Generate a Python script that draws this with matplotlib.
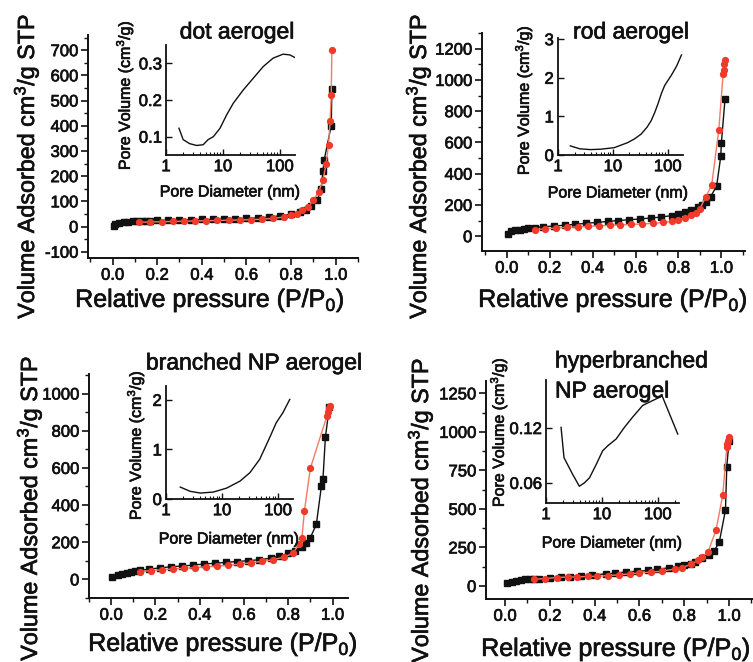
import matplotlib
matplotlib.use("Agg")
import matplotlib.pyplot as plt
import matplotlib.patheffects as pe
from matplotlib.text import Text
from matplotlib.ticker import MultipleLocator, FixedLocator, LogLocator, NullFormatter

plt.rcParams['font.family'] = ['Liberation Sans', 'DejaVu Sans']
plt.rcParams['mathtext.fontset'] = 'custom'
plt.rcParams['mathtext.rm'] = 'Liberation Sans'
plt.rcParams['mathtext.default'] = 'regular'

# ---------------- data ----------------
titles = ["dot aerogel", "rod aerogel", "branched NP aerogel", "hyperbranched", "NP aerogel"]

# dot aerogel
dot_ads_x = [0.005, 0.01, 0.03, 0.05, 0.07, 0.09, 0.11, 0.13, 0.15, 0.17, 0.2, 0.25, 0.3, 0.35, 0.4, 0.45,
             0.5, 0.55, 0.6, 0.65, 0.7, 0.75, 0.8, 0.84, 0.865, 0.889, 0.918, 0.935, 0.943, 0.948,
             0.98, 0.983]
dot_ads_y = [3, 8, 14, 17, 19, 20, 21, 22, 23, 23, 24, 25, 26, 27, 28, 28,
             29, 30, 32, 34, 37, 42, 48, 56, 66, 80, 104, 150, 220, 262,
             400, 545]
dot_des_x = [0.12, 0.17, 0.22, 0.27, 0.32, 0.37, 0.42, 0.47, 0.52, 0.57, 0.62, 0.67, 0.72, 0.77, 0.80,
             0.826, 0.851, 0.878, 0.90, 0.923, 0.943, 0.957, 0.968, 0.975, 0.98, 0.983]
dot_des_y = [17, 18, 19, 20, 21, 22, 23, 24, 25, 26, 27, 29, 32, 38, 45,
             51, 65, 78, 104, 137, 183, 249, 324, 420, 520, 700]
dot_pd = [1.69, 2.0, 2.6, 3.45, 4.5, 5.5, 6.8, 8.9, 11.6, 15.2, 22.7, 34, 51, 76, 114, 150, 183]
dot_pv = [0.123, 0.092, 0.081, 0.076, 0.078, 0.092, 0.100, 0.123, 0.159, 0.191, 0.227, 0.259, 0.291,
          0.314, 0.325, 0.323, 0.316]

# rod aerogel
rod_ads_x = [0.005, 0.02, 0.04, 0.06, 0.08, 0.10, 0.13, 0.17, 0.22, 0.27, 0.32, 0.37, 0.42, 0.47, 0.52,
             0.57, 0.62, 0.67, 0.72, 0.77, 0.80, 0.83, 0.86, 0.89, 0.91, 0.93, 0.95, 0.978, 0.997, 1.0,
             1.017]
rod_ads_y = [15, 30, 38, 42, 46, 50, 55, 60, 65, 70, 76, 82, 88, 94, 100,
             105, 110, 116, 122, 132, 142, 152, 165, 185, 200, 220, 253, 321, 510, 596,
             879]
rod_des_x = [0.13, 0.18, 0.23, 0.28, 0.33, 0.38, 0.43, 0.48, 0.53, 0.58, 0.63, 0.68, 0.73, 0.77, 0.80,
             0.83, 0.86, 0.88, 0.90, 0.928, 0.955, 0.988, 1.008, 1.011, 1.014, 1.017]
rod_des_y = [42, 47, 52, 56, 60, 63, 66, 69, 72, 75, 78, 82, 88, 95, 105,
             118, 135, 150, 175, 253, 328, 682, 1035, 1065, 1100, 1130]
rod_pd = [1.68, 2.5, 3.9, 6, 10.6, 18.6, 25, 32.7, 42, 50, 58, 66.6, 77, 88, 117, 145, 178]
rod_pv = [0.235, 0.16, 0.14, 0.15, 0.19, 0.32, 0.42, 0.54, 0.72, 0.89, 1.1, 1.33, 1.6, 1.8, 2.07, 2.3, 2.59]

# branched NP aerogel
br_ads_x = [0.005, 0.03, 0.05, 0.07, 0.09, 0.11, 0.13, 0.17, 0.22, 0.27, 0.32, 0.37, 0.42, 0.47, 0.52,
            0.57, 0.62, 0.67, 0.72, 0.76, 0.80, 0.83, 0.86, 0.88, 0.90, 0.927, 0.95, 0.957, 0.968, 0.986]
br_ads_y = [14, 23, 30, 36, 40, 44, 48, 55, 62, 68, 72, 77, 83, 87, 92,
            96, 101, 106, 114, 126, 140, 155, 172, 195, 225, 296, 503, 542, 767, 930]
br_des_x = [0.13, 0.18, 0.23, 0.28, 0.33, 0.38, 0.43, 0.48, 0.53, 0.58, 0.63, 0.68, 0.73, 0.78, 0.82,
            0.85, 0.862, 0.873, 0.90, 0.975, 0.98, 0.985, 0.988]
br_des_y = [42, 47, 52, 56, 60, 63, 68, 72, 76, 82, 89, 97, 105, 120, 140,
            190, 224, 368, 598, 880, 900, 920, 935]
br_pd = [1.8, 2.7, 4.1, 7.0, 12.1, 20.9, 31.4, 47, 71, 93, 122, 162]
br_pv = [0.24, 0.155, 0.12, 0.14, 0.22, 0.36, 0.53, 0.80, 1.24, 1.54, 1.74, 2.01]

# hyperbranched NP aerogel
hb_ads_x = [0.01, 0.03, 0.05, 0.07, 0.09, 0.11, 0.13, 0.15, 0.2, 0.25, 0.29, 0.34, 0.39, 0.45, 0.49,
            0.54, 0.59, 0.64, 0.68, 0.73, 0.77, 0.80, 0.83, 0.85, 0.88, 0.91, 0.934, 0.957, 0.984, 0.99,
            1.0]
hb_ads_y = [17, 28, 35, 39, 42, 44, 46, 48, 54, 56, 61, 65, 71, 78, 82,
            91, 95, 100, 109, 117, 126, 134, 143, 158, 178, 200, 227, 288, 492, 774,
            940]
hb_des_x = [0.13, 0.18, 0.23, 0.28, 0.32, 0.37, 0.41, 0.46, 0.51, 0.56, 0.60, 0.65, 0.70, 0.76, 0.79,
            0.83, 0.86, 0.88, 0.905, 0.942, 0.972, 0.99, 0.993, 0.996, 1.0]
hb_des_y = [43, 48, 54, 58, 58, 62, 62, 67, 72, 78, 84, 89, 95, 110, 119,
            140, 165, 190, 217, 362, 590, 900, 921, 940, 964]
hb_pd = [1.86, 2.1, 3.0, 3.95, 4.86, 6.0, 7.9, 10.3, 12.7, 18, 25.3, 35.6, 53.8, 81, 120, 162, 228]
hb_pv = [0.1207, 0.0876, 0.0693, 0.0563, 0.060, 0.0655, 0.080, 0.095, 0.1005, 0.108, 0.1207, 0.132,
         0.1447, 0.150, 0.155, 0.1355, 0.1134]

# ---------------- layout ----------------
W, H = 753, 662
fig = plt.figure(figsize=(W / 100, H / 100), dpi=100)


def rect(l, t, r, b):
    return [l / W, 1 - b / H, (r - l) / W, (b - t) / H]


panels = [
    dict(main=rect(88, 35, 358, 258), xlim=(-0.11, 1.1), ylim=(-125, 760), ymin=50,
         yticks=list(range(-100, 701, 100)),
         ins=rect(166, 45, 295, 155), ixlim=(1, 185), iylim=(0.05, 0.35), iyticks=[0.1, 0.2, 0.3],
         iylabels=["0.1", "0.2", "0.3"],
         ads=(dot_ads_x, dot_ads_y), des=(dot_des_x, dot_des_y), psd=(dot_pd, dot_pv),
         ylab=(26, 166), xlab=(210, 300), iylab=(124, 95), ixlab=(230, 192),
         titles=[(0, 237, 32, 'center')]),
    dict(main=rect(482, 33, 745, 251), xlim=(-0.115, 1.11), ylim=(-95, 1300), ymin=100,
         yticks=list(range(0, 1201, 200)),
         ins=rect(558, 38, 683, 155), ixlim=(1, 190), iylim=(0, 3.03), iyticks=[0, 1, 2, 3],
         iylabels=["0", "1", "2", "3"],
         ads=(rod_ads_x, rod_ads_y), des=(rod_des_x, rod_des_y), psd=(rod_pd, rod_pv),
         ylab=(418, 166), xlab=(613, 300), iylab=(523, 100), ixlab=(618, 193),
         titles=[(1, 631, 32, 'center')]),
    dict(main=rect(89, 374, 348, 598), xlim=(-0.1, 1.07), ylim=(-100, 1105), ymin=100,
         yticks=list(range(0, 1001, 200)),
         ins=rect(166, 386, 293, 499), ixlim=(1, 185), iylim=(0, 2.28), iyticks=[0, 1, 2],
         iylabels=["0", "1", "2"],
         ads=(br_ads_x, br_ads_y), des=(br_des_x, br_des_y), psd=(br_pd, br_pv),
         ylab=(29, 508), xlab=(223, 644), iylab=(135, 445), ixlab=(229, 539),
         titles=[(2, 254, 363, 'center')]),
    dict(main=rect(486, 381, 753, 599), xlim=(-0.085, 1.107), ylim=(-85, 1330), ymin=125,
         yticks=list(range(0, 1251, 250)),
         ins=rect(546, 380, 679, 503), ixlim=(1, 240), iylim=(0.038, 0.1725), iyticks=[0.06, 0.12],
         iylabels=["0.06", "0.12"],
         ads=(hb_ads_x, hb_ads_y), des=(hb_des_x, hb_des_y), psd=(hb_pd, hb_pv),
         ylab=(420, 510), xlab=(616, 649), iylab=(498, 432), ixlab=(612, 543),
         titles=[(3, 555, 361, 'left'), (4, 555, 391, 'left')]),
]

BLACK = '#111111'
RED_M = '#f03a2a'
RED_L = '#f47a66'
FS_TICK = 12
FS_YLAB = 16.8
FS_XLAB = 18
FS_ILAB = 11.5
FS_IYLAB = 11.5
FS_TITLE = 16.5

for i, p in enumerate(panels):
    ax = fig.add_axes(p['main'])
    ax.plot(p['ads'][0], p['ads'][1], '-s', color=BLACK, lw=1.0, ms=4.2, mfc=BLACK, mec=BLACK, zorder=3,
            clip_on=False)
    ax.plot(p['des'][0], p['des'][1], '-o', color=RED_L, lw=1.0, ms=4.2, mfc=RED_M, mec=RED_M, zorder=4,
            clip_on=False)
    ax.set_xlim(*p['xlim'])
    ax.set_ylim(*p['ylim'])
    ax.xaxis.set_major_locator(FixedLocator([0.0, 0.2, 0.4, 0.6, 0.8, 1.0]))
    ax.xaxis.set_minor_locator(FixedLocator([-0.1, 0.1, 0.3, 0.5, 0.7, 0.9, 1.1]))
    ax.set_xticklabels(["0.0", "0.2", "0.4", "0.6", "0.8", "1.0"])
    ax.yaxis.set_major_locator(FixedLocator(p['yticks']))
    ax.yaxis.set_minor_locator(MultipleLocator(p['ymin']))
    ax.set_yticklabels([str(v) for v in p['yticks']])
    for s in ('top', 'right'):
        ax.spines[s].set_visible(False)
    for s in ('left', 'bottom'):
        ax.spines[s].set_linewidth(1.4)
        ax.spines[s].set_color(BLACK)
    ax.tick_params(which='major', direction='out', length=5, width=1.2, labelsize=FS_TICK, pad=2, colors=BLACK)
    ax.tick_params(which='minor', direction='out', length=3, width=1.0, colors=BLACK)
    ax.patch.set_alpha(0)

    # labels
    x, y = p['ylab']
    fig.text(x / W, 1 - y / H, "Volume Adsorbed cm$^3$/g STP", rotation=90, ha='center', va='center',
             fontsize=FS_YLAB, color=BLACK)
    x, y = p['xlab']
    fig.text(x / W, 1 - y / H, "Relative pressure (P/P$_0$)", ha='center', va='center',
             fontsize=FS_XLAB, color=BLACK)
    for ti, x, y, ha in p['titles']:
        fig.text(x / W, 1 - y / H, titles[ti], ha=ha, va='center', fontsize=FS_TITLE, color=BLACK)

    # inset
    ia = fig.add_axes(p['ins'])
    ia.plot(p['psd'][0], p['psd'][1], '-', color=BLACK, lw=1.0)
    ia.set_xscale('log')
    ia.set_xlim(*p['ixlim'])
    ia.set_ylim(*p['iylim'])
    ia.xaxis.set_major_locator(FixedLocator([1, 10, 100]))
    ia.xaxis.set_minor_locator(LogLocator(base=10, subs=range(2, 10)))
    ia.xaxis.set_minor_formatter(NullFormatter())
    ia.set_xticklabels(["1", "10", "100"])
    ia.yaxis.set_major_locator(FixedLocator(p['iyticks']))
    ia.set_yticklabels(p['iylabels'])
    for s in ('top', 'right'):
        ia.spines[s].set_visible(False)
    for s in ('left', 'bottom'):
        ia.spines[s].set_linewidth(1.3)
        ia.spines[s].set_color(BLACK)
    ia.tick_params(which='major', direction='in', length=4, width=1.0, labelsize=FS_TICK, pad=3, colors=BLACK)
    ia.tick_params(which='minor', direction='in', length=2, width=0.8, colors=BLACK)
    ia.patch.set_alpha(0)
    x, y = p['iylab']
    fig.text(x / W, 1 - y / H, "Pore Volume (cm$^3$/g)", rotation=90, ha='center', va='center',
             fontsize=FS_IYLAB, color=BLACK)
    x, y = p['ixlab']
    fig.text(x / W, 1 - y / H, "Pore Diameter (nm)", ha='center', va='center',
             fontsize=FS_ILAB, color=BLACK)

# slightly heavier text, like the scanned original
for t in fig.findobj(Text):
    if t.get_text():
        t.set_path_effects([pe.withStroke(linewidth=0.5, foreground=BLACK)])

fig.savefig("out.png", dpi=100)
